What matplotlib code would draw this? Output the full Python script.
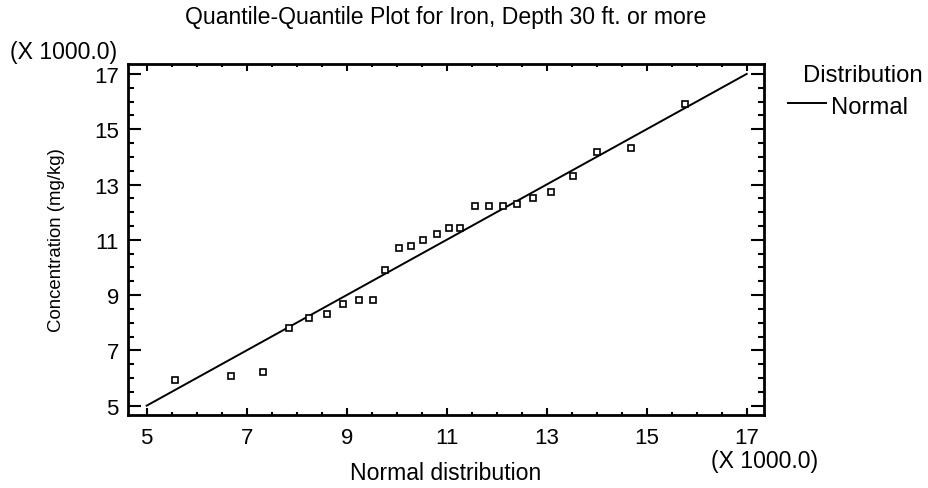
import matplotlib
matplotlib.use('Agg')
import matplotlib.pyplot as plt
from matplotlib.ticker import MultipleLocator

plt.rcParams['font.family'] = ['Liberation Sans', 'DejaVu Sans']

# normal quantiles (x) vs sorted iron concentrations (y), both in thousands mg/kg
normal_q = [5.57, 6.69, 7.33, 7.85, 8.25, 8.61, 8.93, 9.25, 9.53, 9.77,
            10.05, 10.29, 10.53, 10.81, 11.05, 11.27, 11.57, 11.85, 12.13,
            12.41, 12.73, 13.09, 13.53, 14.01, 14.69, 15.77]
iron = [5.94, 6.07, 6.23, 7.81, 8.18, 8.33, 8.68, 8.84, 8.84, 9.92,
        10.72, 10.78, 11.01, 11.22, 11.43, 11.43, 12.24, 12.24, 12.24,
        12.31, 12.53, 12.74, 13.32, 14.19, 14.33, 15.93]
ref_line = [5, 17]
ticks = [5, 7, 9, 11, 13, 15, 17]

fs = 16.6

fig = plt.figure(figsize=(9.29, 4.89), dpi=100)
ax = fig.add_axes([0.1383, 0.1503, 0.6846, 0.7168])

ax.plot(ref_line, ref_line, color='black', linewidth=1.4, label='Normal')
ax.plot(normal_q, iron, linestyle='none', marker='s', markersize=4.0,
        markerfacecolor='white', markeredgecolor='black', markeredgewidth=1.2)

ax.set_xlim(4.636, 17.356)
ax.set_ylim(4.68, 17.36)
ax.set_xticks(ticks)
ax.set_yticks(ticks)
ax.xaxis.set_minor_locator(MultipleLocator(0.5))
ax.yaxis.set_minor_locator(MultipleLocator(0.5))
ax.tick_params(which='both', direction='in', top=True, right=True,
               width=1.5, labelsize=16)
ax.tick_params(axis='y', which='major', length=9.5, pad=7)
ax.tick_params(axis='y', which='minor', length=4.5)
ax.tick_params(axis='x', which='major', length=5, pad=9)
ax.tick_params(axis='x', which='minor', length=2.2)
for s in ax.spines.values():
    s.set_linewidth(2)

fig.text(446 / 929, 1 - 480 / 489, 'Normal distribution',
         ha='center', va='baseline', fontsize=fs)
fig.text(57 / 929, 0.51, 'Concentration (mg/kg)', rotation=90,
         ha='center', va='center', fontsize=13.4)

fig.text(445.5 / 929, 1 - 24 / 489,
         'Quantile-Quantile Plot for Iron, Depth 30 ft. or more',
         ha='center', va='baseline', fontsize=fs)
fig.text(10 / 929, 1 - 59 / 489, '(X 1000.0)', ha='left', va='baseline', fontsize=fs)
fig.text(711 / 929, 1 - 468 / 489, '(X 1000.0)', ha='left', va='baseline', fontsize=fs)

# legend drawn beside the plot
fig.text(803 / 929, 1 - 82 / 489, 'Distribution', ha='left', va='baseline', fontsize=17.2)
fig.lines.append(plt.Line2D([788 / 929, 826 / 929], [1 - 104 / 489, 1 - 104 / 489],
                            color='black', linewidth=1.4, transform=fig.transFigure))
fig.text(831 / 929, 1 - 114 / 489, 'Normal', ha='left', va='baseline', fontsize=17.2)

fig.savefig('out.png', dpi=100)
